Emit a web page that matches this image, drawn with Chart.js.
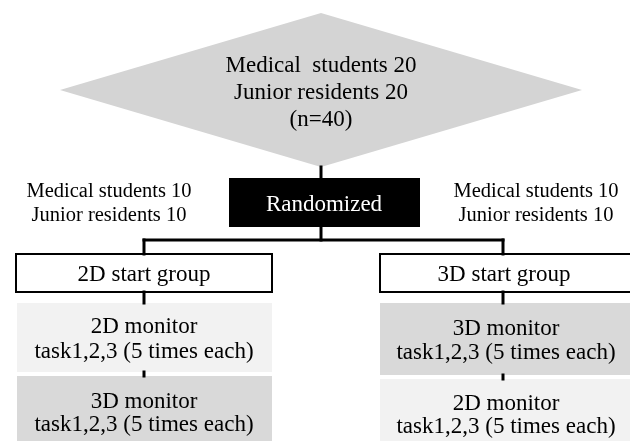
<!DOCTYPE html>
<html>
<head>
<meta charset="utf-8">
<script src="https://cdn.jsdelivr.net/npm/chart.js@4.4.1/dist/chart.umd.min.js"></script>
<style>
  html, body { margin: 0; padding: 0; background: #fff; }
  #wrap { width: 630px; height: 441px; }
</style>
</head>
<body>
<div id="wrap"><canvas id="flow"></canvas></div>
<script>
/* flowchart texts */
var nodeNames = ['total', 'random', 'armL', 'armR', 'startL', 'startR', 'mon1L', 'mon1R', 'mon2L', 'mon2R'];
var totalText = ['Medical  students 20', 'Junior residents 20', '(n=40)'];
var randomText = ['Randomized'];
var armText = ['Medical students 10', 'Junior residents 10'];
var groupText = ['2D start group', '3D start group'];
var monitor2D = ['2D monitor', 'task1,2,3 (5 times each)'];
var monitor3D = ['3D monitor', 'task1,2,3 (5 times each)'];

var nodeText = {
  total: totalText,
  random: randomText,
  armL: armText,
  armR: armText,
  startL: [groupText[0]],
  startR: [groupText[1]],
  mon1L: monitor2D,
  mon1R: monitor3D,
  mon2L: monitor3D,
  mon2R: monitor2D
};

/* layout, in canvas units (x 0..630, y 0..441) */
var layout = {
  total:  { shape: 'diamond', cx: 321, cy: 90, hw: 261, hh: 77, fill: '#d4d4d4', tx: 321, base: [72, 99, 126], size: 23 },
  random: { shape: 'rect', x0: 229, x1: 420, y0: 178, y1: 227, fill: '#000', color: '#fff', tx: 324, base: [211], size: 23 },
  armL:   { shape: 'none', tx: 109, base: [197, 221], size: 20.5 },
  armR:   { shape: 'none', tx: 536, base: [197, 221], size: 20.5 },
  startL: { shape: 'rect', x0: 16, x1: 272, y0: 254, y1: 292, fill: '#fff', stroke: '#000', tx: 144, base: [281], size: 23 },
  startR: { shape: 'rect', x0: 380, x1: 634, y0: 254, y1: 292, fill: '#fff', stroke: '#000', tx: 504, base: [281], size: 23 },
  mon1L:  { shape: 'rect', x0: 17, x1: 272, y0: 303, y1: 372, fill: '#f2f2f2', tx: 144, base: [333, 358], size: 23 },
  mon2L:  { shape: 'rect', x0: 17, x1: 272, y0: 376, y1: 445, fill: '#d9d9d9', tx: 144, base: [408, 431], size: 23 },
  mon1R:  { shape: 'rect', x0: 380, x1: 634, y0: 303, y1: 375, fill: '#d9d9d9', tx: 506, base: [335, 359], size: 23 },
  mon2R:  { shape: 'rect', x0: 380, x1: 634, y0: 379, y1: 445, fill: '#f2f2f2', tx: 506, base: [410, 433], size: 23 }
};

var links = [
  [321, 167, 321, 178],
  [321, 227, 321, 240],
  [144, 240, 503, 240],
  [144, 240, 144, 254],
  [503, 240, 503, 254],
  [144, 292, 144, 303],
  [503, 292, 503, 303],
  [144, 372, 144, 376],
  [503, 375, 503, 379]
];

var fontFamily = '"Liberation Serif", "Times New Roman", serif';

var flowPlugin = {
  id: 'flow',
  afterDatasetsDraw: function(chart) {
    var ctx = chart.ctx;
    var sx = chart.scales.x, sy = chart.scales.y;
    function px(v) { return sx.getPixelForValue(v); }
    function py(v) { return sy.getPixelForValue(v); }
    ctx.save();

    // shapes
    nodeNames.forEach(function(name) {
      var n = layout[name];
      if (n.shape === 'diamond') {
        ctx.beginPath();
        ctx.moveTo(px(n.cx), py(n.cy - n.hh));
        ctx.lineTo(px(n.cx + n.hw), py(n.cy));
        ctx.lineTo(px(n.cx), py(n.cy + n.hh));
        ctx.lineTo(px(n.cx - n.hw), py(n.cy));
        ctx.closePath();
        ctx.fillStyle = n.fill;
        ctx.fill();
      } else if (n.shape === 'rect') {
        var x = px(n.x0), y = py(n.y0);
        var w = px(n.x1) - x, h = py(n.y1) - y;
        ctx.fillStyle = n.fill;
        ctx.fillRect(x, y, w, h);
        if (n.stroke) {
          ctx.strokeStyle = n.stroke;
          ctx.lineWidth = 2;
          ctx.strokeRect(x, y, w, h);
        }
      }
    });

    // connectors
    ctx.strokeStyle = '#000';
    ctx.lineWidth = 3;
    ctx.lineCap = 'square';
    links.forEach(function(l) {
      ctx.beginPath();
      ctx.moveTo(px(l[0]), py(l[1]));
      ctx.lineTo(px(l[2]), py(l[3]));
      ctx.stroke();
    });

    // texts
    ctx.textAlign = 'center';
    ctx.textBaseline = 'alphabetic';
    nodeNames.forEach(function(name) {
      var n = layout[name];
      ctx.fillStyle = n.color || '#000';
      ctx.font = n.size + 'px ' + fontFamily;
      nodeText[name].forEach(function(line, i) {
        ctx.fillText(line, px(n.tx), py(n.base[i]));
      });
    });
    ctx.restore();
  }
};

new Chart(document.getElementById('flow'), {
  type: 'scatter',
  data: {
    datasets: [{
      data: nodeNames.map(function(name) {
        var n = layout[name];
        return { x: n.tx, y: n.base[0] };
      }),
      pointRadius: 0,
      pointHoverRadius: 0
    }]
  },
  options: {
    responsive: true,
    maintainAspectRatio: false,
    animation: false,
    layout: { padding: 0 },
    plugins: { legend: { display: false }, tooltip: { enabled: false } },
    events: [],
    scales: {
      x: { type: 'linear', min: 0, max: 630, display: false },
      y: { type: 'linear', min: 0, max: 441, reverse: true, display: false }
    }
  },
  plugins: [flowPlugin]
});
</script>
</body>
</html>
